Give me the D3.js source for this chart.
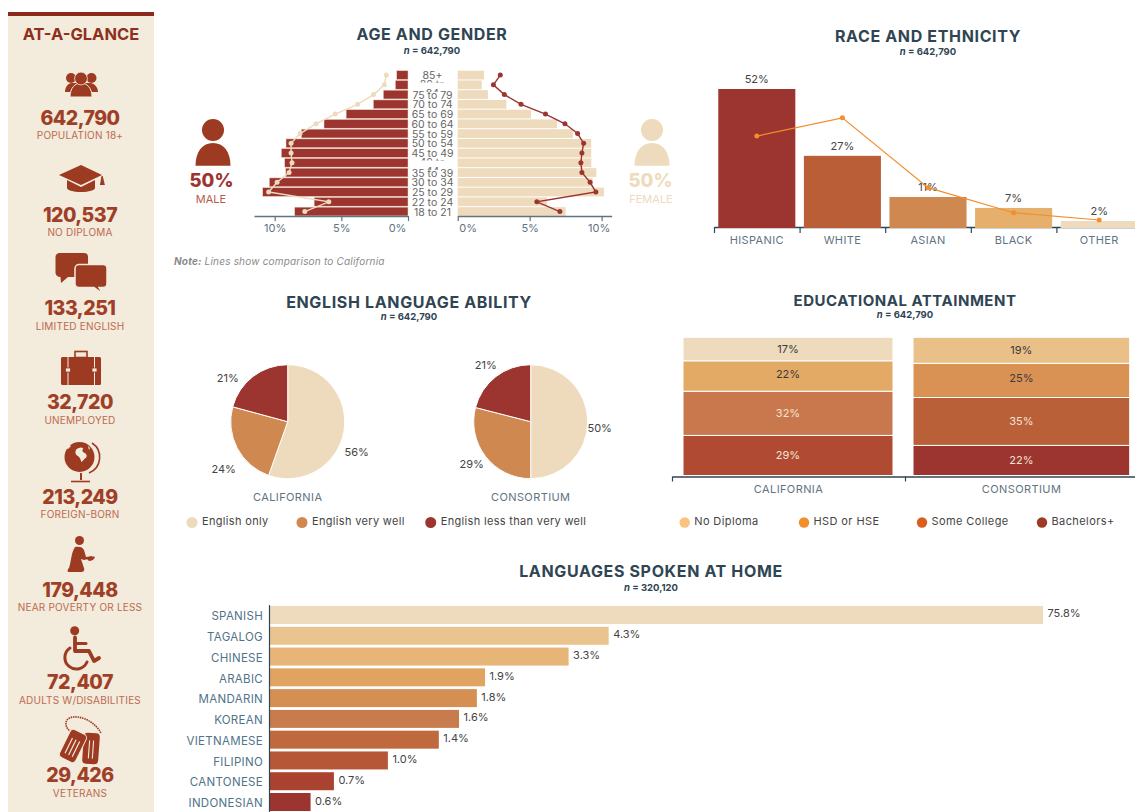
<!DOCTYPE html>
<html><head><meta charset="utf-8">
<script src="https://cdn.jsdelivr.net/npm/d3@7"></script>
<style>
html,body{margin:0;padding:0;background:#fff;overflow:hidden}
svg{display:block}
text{font-family:Inter,"Open Sans",sans-serif}
</style></head><body>
<svg id="c" width="1135" height="812"></svg>
<script>
// ---------- data ----------
const statValues=["642,790","120,537","133,251","32,720","213,249","179,448","72,407","29,426"];
const statLabels=["POPULATION 18+","NO DIPLOMA","LIMITED ENGLISH","UNEMPLOYED","FOREIGN-BORN","NEAR POVERTY OR LESS","ADULTS W/DISABILITIES","VETERANS"];
const ageLabels=["85+","80 to 84","75 to 79","70 to 74","65 to 69","60 to 64","55 to 59","50 to 54","45 to 49","40 to 44","35 to 39","30 to 34","25 to 29","22 to 24","18 to 21"];
const malePct=[0.85,0.95,1.85,2.6,4.64,6.3,8.0,9.15,9.5,9.25,9.17,10.4,10.9,7.04,8.5];
const femalePct=[1.83,1.67,2.1,3.38,5.09,6.9,8.0,9.28,9.28,9.28,9.63,9.37,10.16,6.2,7.5];
const maleCA=[1.63,1.78,2.58,3.78,5.46,6.9,8.1,8.77,8.77,8.7,8.92,9.82,10.45,5.94,7.74];
const femaleCA=[2.96,2.48,3.24,4.4,6.1,7.45,8.33,8.75,8.63,8.56,8.63,9.2,9.6,5.5,7.1];
const raceCats=["HISPANIC","WHITE","ASIAN","BLACK","OTHER"];
const raceVals=[52,27,11,7,2];
const raceBarVals=[52,27,11.6,7.5,2.6];
const raceCA=[34.4,41.2,15.1,5.7,3];
const pieRegions=["CALIFORNIA","CONSORTIUM"];
const pieKeys=["English only","English very well","English less than very well"];
const pieCA=[56,24,21];
const pieCons=[50,29,21];
const eduKeys=["No Diploma","HSD or HSE","Some College","Bachelors+"];
const eduCA=[17,22,32,29];
const eduCons=[19,25,35,22];
const langCats=["SPANISH","TAGALOG","CHINESE","ARABIC","MANDARIN","KOREAN","VIETNAMESE","FILIPINO","CANTONESE","INDONESIAN"];
const langVals=[75.8,4.3,3.3,1.9,1.8,1.6,1.4,1.0,0.7,0.6];

// ---------- palette ----------
const ink="#2F4553",axisC="#5F7380",val="#444",red="#9C3430",rust="#9C3A22",sand="#EEDBBD",bg="#F3EBDB";
const raceColors=[red,"#BA5E38","#CF8850","#E6B06C",sand];
const pieColors=[sand,"#CF8850",red];
const eduColorsCA=[sand,"#E3AA66","#C8784C","#B04A33"];
const eduColorsCons=["#EAC089","#D99254","#BA6039",red];
const eduLegend=["#FCC27F","#F28E2B","#D95F1F","#9E3A26"];
const langColors=[sand,"#EAC48E","#E6B577","#E0A360","#D58F53","#C87B4C","#C0693F","#B65838","#AA4230",red];

const svg=d3.select("#c");
function txt(g,x,y,s,o={}){
  const t=g.append("text").attr("x",x).attr("y",y).text(s)
    .attr("text-anchor",o.a||"middle").attr("font-size",o.s||11)
    .attr("font-weight",o.w||400).attr("fill",o.c||val);
  if(o.ls!=null)t.style("letter-spacing",o.ls+"px");
  if(o.i)t.attr("font-style","italic");
  return t;
}
function title(x,y,yn,s,n,size){
  txt(svg,x,y,s,{s:size||16,w:700,c:ink,ls:size?0.5:0.65});
  const t=svg.append("text").attr("x",x).attr("y",yn).attr("text-anchor","middle")
    .attr("font-size",9.5).attr("font-weight",700).attr("fill",ink);
  t.append("tspan").attr("font-style","italic").text("n");
  t.append("tspan").text(" = "+n);
}
function styleAxis(g,c,fs,ls){
  g.selectAll("path.domain").attr("stroke",c).attr("stroke-width",1.5);
  g.selectAll(".tick line").attr("stroke",c).attr("stroke-width",1.2);
  g.selectAll("text").attr("fill",c).attr("font-size",fs||11).attr("font-family","Inter,sans-serif").style("letter-spacing",(ls||0)+"px");
}

// ---------- sidebar ----------
svg.append("rect").attr("x",8).attr("y",12).attr("width",146).attr("height",800).attr("fill",bg);
svg.append("rect").attr("x",8).attr("y",12).attr("width",146).attr("height",4).attr("fill","#8B2A1C");
txt(svg,81,40,"AT-A-GLANCE",{s:16.5,w:700,c:"#8E2F1E"});
const statY=[125,221.5,315,408.5,504,596.5,689,782];
const statLY=[139,236,330,424,518,611,704,797];
statValues.forEach((v,i)=>{
  txt(svg,80,statY[i],v,{s:19.5,w:800,c:"#A03F28",ls:-.5});
  txt(svg,80,statLY[i],statLabels[i],{s:10,c:"#BC6A50",ls:.2});
});
const ic=svg.append("g").attr("fill",rust);
// people
ic.append("circle").attr("cx",71).attr("cy",78).attr("r",5);
ic.append("circle").attr("cx",91.5).attr("cy",78).attr("r",5);
ic.append("path").attr("d","M65 92c0-5 3-9 7-9h18c4 0 8 4 8 9z");
ic.append("path").attr("d","M70 97c0-9 5-14 11-14s11 5 11 14z").attr("stroke",bg).attr("stroke-width",1);
ic.append("circle").attr("cx",81).attr("cy",78.5).attr("r",6.4).attr("stroke",bg).attr("stroke-width",.8);
// cap
ic.append("path").attr("d","M59 175L81 165L102 175L81 185z");
ic.append("path").attr("d","M67 180v8c0 2 6 4 14 4s14-2 14-4v-8l-14 7z");
ic.append("path").attr("d","M101.5 176h1.2l2.2 9h-5z");
// chat
ic.append("path").attr("d","M60 253h24a4 4 0 0 1 4 4v16a4 4 0 0 1-4 4H68l-7 6l-.5-6a5 5 0 0 1-5-4V257a4 4 0 0 1 4.500-4z");
ic.append("path").attr("d","M79 264.500h24a4 4 0 0 1 4 4v15a4 4 0 0 1-4 4h-4l4 6.500l-9-6.500H79a4 4 0 0 1-4-4v-15a4 4 0 0 1 4-4z").attr("stroke",bg).attr("stroke-width",1.5);
// case
ic.append("rect").attr("x",61).attr("y",357).attr("width",40).attr("height",28).attr("rx",1.5);
ic.append("rect").attr("x",75).attr("y",351.500).attr("width",12).attr("height",6).attr("fill","none").attr("stroke",rust).attr("stroke-width",1.6);
[67.500,94].forEach(x=>{
  ic.append("rect").attr("x",x).attr("y",357).attr("width",1).attr("height",28).attr("fill",bg);
  ic.append("rect").attr("x",x-2).attr("y",368).attr("width",5).attr("height",4).attr("fill",bg).attr("stroke",rust).attr("stroke-width",.8);
});
// globe
ic.append("circle").attr("cx",79.500).attr("cy",457).attr("r",15);
ic.append("path").attr("d","M92 443a17 17 0 0 1 -3 30").attr("fill","none").attr("stroke",rust).attr("stroke-width",1.6);
ic.append("path").attr("d","M81 473v7").attr("stroke",rust).attr("stroke-width",2);
ic.append("path").attr("d","M71 481.500h19").attr("stroke",rust).attr("stroke-width",1.6);
ic.append("path").attr("d","M75 446c4-2 7-4 10-1c-2 2-2 4 1 6c3 1 5 4 3 7c-3 1-4 5-7 6c-1-4-2-7-6-9c-3-2-3-6-1-9z").attr("fill",bg).attr("transform","translate(79.5 457) scale(.7) translate(-79.5 -457)");
ic.append("path").attr("d","M66 448l3-3l2 1l-3 3z M88 446l2 2l-1 2z").attr("fill",bg);
// kneeling
ic.append("circle").attr("cx",79.500).attr("cy",540.500).attr("r",4.500);
ic.append("path").attr("d","M75 547c4-1 8 0 9 3l2 7l6-1l0 2l-8 2l-3-1l3 9c1 3-1 4-3 4H68c-1-2 0-3 1-4c2-5 2-15 6-21z");
ic.append("path").attr("d","M87 559c2-2 6-3 8-2c-1 3-4 4-6 4z");
// wheelchair
ic.append("circle").attr("cx",74.700).attr("cy",630.700).attr("r",4.500);
const wh=ic.append("g").attr("fill","none").attr("stroke",rust).attr("stroke-linecap","round").attr("stroke-linejoin","round");
wh.append("path").attr("d","M75 637.500v13.500h14l5 10l5-3").attr("stroke-width",3.8);
wh.append("path").attr("d","M75 643.500h11").attr("stroke-width",3);
wh.append("path").attr("d","M70 648a11.500 11.500 0 1 0 17 14").attr("stroke-width",3);
// tags
ic.append("path").attr("d","M73 733C63 728 64 718 73 717C85 716 96 724 101 733").attr("fill","none").attr("stroke",rust).attr("stroke-width",1.6).attr("stroke-dasharray","1.500 .8");
ic.append("rect").attr("x",-8).attr("y",-15.5).attr("width",16).attr("height",31).attr("rx",4).attr("transform","translate(91,748.5) rotate(4)");
ic.append("rect").attr("x",-9).attr("y",-15.5).attr("width",18).attr("height",31).attr("rx",4).attr("stroke",bg).attr("stroke-width",1).attr("transform","translate(73,746) rotate(26)");
[-4,0,4].forEach(d=>{
  ic.append("rect").attr("x",d-.6).attr("y",-7).attr("width",1.200).attr("height",17).attr("fill",bg).attr("transform","translate(73,746) rotate(26)");
});
[-2,2].forEach(d=>{
  ic.append("rect").attr("x",d-.5).attr("y",-8).attr("width",1.100).attr("height",18).attr("fill",bg).attr("transform","translate(91,748.5) rotate(4)");
});

// ---------- pyramid ----------
title(432,40,54,"AGE AND GENDER","642,790");
const yAge=d3.scaleBand().domain(ageLabels).range([70.2,216.4]).paddingInner(.1).paddingOuter(.05);
const xM=d3.scaleLinear().domain([0,11.55]).range([408,254]);
const xF=d3.scaleLinear().domain([0,10.7]).range([457.7,611.7]);
svg.append("g").selectAll("rect").data(ageLabels).join("rect")
  .attr("x",(d,i)=>xM(malePct[i])).attr("width",(d,i)=>408-xM(malePct[i]))
  .attr("y",d=>yAge(d)).attr("height",yAge.bandwidth()).attr("fill",red).attr("stroke","#EFD9C6").attr("stroke-width",.5);
svg.append("g").selectAll("rect").data(ageLabels).join("rect")
  .attr("x",xF(0)).attr("width",(d,i)=>xF(femalePct[i])-xF(0))
  .attr("y",d=>yAge(d)).attr("height",yAge.bandwidth()).attr("fill",sand);
const rowY=d=>yAge(d)+yAge.bandwidth()/2;
const lineM=d3.line().x((d,i)=>xM(maleCA[i])).y(d=>rowY(d));
const lineF=d3.line().x((d,i)=>xF(femaleCA[i])).y(d=>rowY(d));
svg.append("path").attr("d",lineM(ageLabels)).attr("fill","none").attr("stroke",sand).attr("stroke-width",1.4);
svg.append("path").attr("d",lineF(ageLabels)).attr("fill","none").attr("stroke",red).attr("stroke-width",1.4);
svg.append("g").selectAll("circle").data(ageLabels).join("circle")
  .attr("cx",(d,i)=>xM(maleCA[i])).attr("cy",rowY).attr("r",2.5).attr("fill",sand);
svg.append("g").selectAll("circle").data(ageLabels).join("circle")
  .attr("cx",(d,i)=>xF(femaleCA[i])).attr("cy",rowY).attr("r",2.5).attr("fill",red);
// age labels; two of them wrap and are cut off by their neighbours
const defs=svg.append("defs");
const ageG=svg.append("g");
ageLabels.forEach((a,i)=>{
  const cy=rowY(a);
  if(a==="80 to 84"||a==="40 to 44"){
    const parts=[a.slice(0,5),a.slice(6)];
    parts.forEach((p,j)=>{
      const top=cy+(j?3.8:-5.2), id="cl"+i+"_"+j;
      defs.append("clipPath").attr("id",id).append("rect").attr("x",410).attr("y",top).attr("width",45).attr("height",j?3.4:2.8);
      txt(ageG,432.5,top+8,p,{s:10.5,c:"#666"}).attr("clip-path","url(#"+id+")");
    });
  } else txt(ageG,432.5,cy+4,a,{s:10.5,c:"#666"});
});
const axM=svg.append("g").attr("transform","translate(0,216)").call(d3.axisBottom(xM).tickValues([0,5,10]).tickFormat(d=>d+"%").tickSize(5).tickSizeOuter(0));
styleAxis(axM,axisC);
axM.selectAll(".tick text").filter(d=>d===0).attr("dx",-11);
const axF=svg.append("g").attr("transform","translate(0,216)").call(d3.axisBottom(xF).tickValues([0,5,10]).tickFormat(d=>d+"%").tickSize(5).tickSizeOuter(0));
styleAxis(axF,axisC);
axF.selectAll(".tick text").filter(d=>d===0).attr("dx",10);
axF.selectAll(".tick text").filter(d=>d===10).attr("dx",-3);
// person glyphs
[[213,"#9C3A22"],[652,sand]].forEach(p=>{
  svg.append("circle").attr("cx",p[0]).attr("cy",130).attr("r",11).attr("fill",p[1]);
  svg.append("path").attr("fill",p[1]).attr("d",`M${p[0]-17.5} 165.700c0-14 7-22.700 17.500-22.700s17.500 8.700 17.500 22.700z`);
});
txt(svg,211.5,187,"50%",{s:18.5,w:800,c:red});
txt(svg,211,203,"MALE",{s:11,c:"#B85C4A"});
txt(svg,650.5,187,"50%",{s:18.5,w:800,c:sand});
txt(svg,651,203,"FEMALE",{s:11,c:sand});
const note=svg.append("text").attr("x",174).attr("y",265).attr("font-size",10).attr("font-style","italic").attr("fill","#8a8a8a").style("letter-spacing",".2px");
note.append("tspan").attr("font-weight",700).text("Note:");
note.append("tspan").text(" Lines show comparison to California");

// ---------- race ----------
title(928,41.5,55,"RACE AND ETHNICITY","642,790");
const xR=d3.scaleBand().domain(raceCats).range([714,1142]).paddingInner(.1).paddingOuter(.05);
const yR=d3.scaleLinear().domain([0,52]).range([228,89]);
const tickR=d3.scaleLinear().domain([0,5]).range([714,1142]);
const axR=svg.append("g").attr("transform","translate(0,227)").call(d3.axisBottom(tickR).tickValues([0,1,2,3,4,5]).tickFormat("").tickSize(6).tickSizeOuter(0));
styleAxis(axR,ink);
const axRL=svg.append("g").attr("transform","translate(0,227)").call(d3.axisBottom(xR).tickSize(0).tickPadding(9));
axRL.select("path.domain").remove();
styleAxis(axRL,axisC,11,.35);
svg.append("g").selectAll("rect").data(raceCats).join("rect")
  .attr("x",d=>xR(d)).attr("width",xR.bandwidth())
  .attr("y",(d,i)=>yR(raceBarVals[i])).attr("height",(d,i)=>yR(0)-yR(raceBarVals[i]))
  .attr("fill",(d,i)=>raceColors[i]);
raceCats.forEach((c,i)=>txt(svg,xR(c)+xR.bandwidth()/2,yR(raceBarVals[i])-6,raceVals[i]+"%",{s:11}));
const lineR=d3.line().x(d=>xR(d)+xR.bandwidth()/2).y((d,i)=>yR(raceCA[i]));
svg.append("path").attr("d",lineR(raceCats)).attr("fill","none").attr("stroke","#F28E2B").attr("stroke-width",1.2);
svg.append("g").selectAll("circle").data(raceCats).join("circle")
  .attr("cx",d=>xR(d)+xR.bandwidth()/2).attr("cy",(d,i)=>yR(raceCA[i])).attr("r",2.5).attr("fill","#F28E2B");

// ---------- pies ----------
title(409,307.5,320,"ENGLISH LANGUAGE ABILITY","642,790");
const pie=d3.pie().sort(null);
const arc=d3.arc().innerRadius(0).outerRadius(57);
const pieCx=d3.scalePoint().domain(pieRegions).range([287.7,530.7]);
const pieLabelAt=[[[69,30],[-64,47],[-60,-44]],[[69,6],[-59,42],[-45,-57]]];
[pieCA,pieCons].forEach((vals,k)=>{
  const cx=pieCx(pieRegions[k]),cy=421.7;
  const g=svg.append("g").attr("transform",`translate(${cx},${cy})`);
  g.selectAll("path").data(pie(vals)).join("path").attr("d",arc).attr("fill",(d,i)=>pieColors[i]).attr("stroke","#fff").attr("stroke-width",1);
  vals.forEach((v,i)=>txt(g,pieLabelAt[k][i][0],pieLabelAt[k][i][1]+4,v+"%",{s:11}));
  txt(svg,cx,501,pieRegions[k],{s:11,c:axisC,ls:.4});
});
const pieLegX=[192,302,430.7];
pieKeys.forEach((k,i)=>{
  svg.append("circle").attr("cx",pieLegX[i]).attr("cy",522.5).attr("r",5.5).attr("fill",pieColors[i]);
  txt(svg,pieLegX[i]+10,525,k,{s:11,a:"start",ls:.33});
});

// ---------- education ----------
title(905,305.5,318,"EDUCATIONAL ATTAINMENT","642,790",15);
const edu=[eduCA,eduCons];
const xE=d3.scaleBand().domain(pieRegions).range([672,1138]);
const yE=d3.scaleLinear().domain([0,1]).range([475.5,337.3]);
const eduInset=[[11,12],[8,8.3]];
const stack=d3.stack().keys([3,2,1,0]).offset(d3.stackOffsetExpand);
const axE=svg.append("g").attr("transform","translate(0,476.5)").call(d3.axisBottom(xE).tickSize(0).tickPadding(9));
axE.select("path.domain").remove();
styleAxis(axE,axisC,11,.4);
const axET=svg.append("g").attr("transform","translate(0,476.5)").call(d3.axisBottom(d3.scaleLinear().domain([0,2]).range([672,1138])).tickValues([0,1,2]).tickFormat("").tickSize(5).tickSizeOuter(0));
styleAxis(axET,ink);
stack(edu).forEach(layer=>{
  const key=layer.key;
  layer.forEach((seg,k)=>{
    const x0=xE(pieRegions[k])+eduInset[k][0],w=xE.bandwidth()-eduInset[k][0]-eduInset[k][1];
    const colors=k?eduColorsCons:eduColorsCA;
    svg.append("rect").attr("x",x0).attr("width",w).attr("y",yE(seg[1])).attr("height",yE(seg[0])-yE(seg[1]))
      .attr("fill",colors[key]).attr("stroke","#fff").attr("stroke-width",1);
    const dark=!(key<2);
    txt(svg,x0+w/2,(yE(seg[0])+yE(seg[1]))/2+(key===1?2:3.5),edu[k][key]+"%",{s:11,c:dark?"#F4E3D3":"#3a3a3a"});
  });
});
const eduLegX=[684.7,804,922,1042];
eduKeys.forEach((k,i)=>{
  svg.append("circle").attr("cx",eduLegX[i]).attr("cy",522.5).attr("r",5.2).attr("fill",eduLegend[i]);
  txt(svg,eduLegX[i]+9.5,525,k,{s:11,a:"start",ls:.4});
});

// ---------- languages ----------
title(651,577,590.5,"LANGUAGES SPOKEN AT HOME","320,120");
const xL=d3.scaleLog().domain([0.458,75.8]).range([269.7,1043]);
const yL=d3.scaleBand().domain(langCats).range([604.6,812.4]).paddingInner(.134).paddingOuter(.067);
svg.append("g").selectAll("rect").data(langCats).join("rect")
  .attr("x",269.7).attr("y",d=>yL(d)).attr("height",yL.bandwidth())
  .attr("width",(d,i)=>xL(langVals[i])-269.7).attr("fill",(d,i)=>langColors[i]);
const axL=svg.append("g").attr("transform","translate(269,0)").call(d3.axisLeft(yL).tickSize(0).tickPadding(6));
axL.select("path.domain").attr("stroke",ink).attr("stroke-width",1.2);
axL.selectAll("text").attr("fill","#4F7388").attr("font-size",11.5).attr("font-family","Inter,sans-serif").attr("dy","0.45em").style("letter-spacing",".3px");
langCats.forEach((c,i)=>txt(svg,xL(langVals[i])+4.5,yL(c)+yL.bandwidth()/2+2.5,langVals[i].toFixed(1)+"%",{s:11,a:"start"}));
</script>
</body></html>
